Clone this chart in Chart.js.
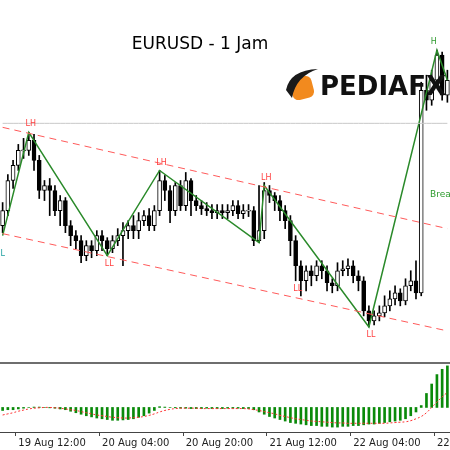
<!DOCTYPE html>
<html><head><meta charset="utf-8">
<script src="https://cdn.jsdelivr.net/npm/chart.js@4"></script>
<style>html,body{margin:0;padding:0;background:#fff}#w{width:450px;height:450px}</style>
</head><body><div id="w"><canvas id="c"></canvas></div>
<script>
const opens=[1.0975,1.0990,1.1020,1.1035,1.1050,1.1050,1.1060,1.1040,1.1010,1.1015,1.1010,1.0990,1.1000,1.0975,1.0965,1.0960,1.0945,1.0955,1.0950,1.0965,1.0960,1.0952,1.0960,1.0965,1.0970,1.0975,1.0970,1.0980,1.0985,1.0975,1.0990,1.1020,1.1010,1.0990,1.1015,1.0995,1.1020,1.1000,1.0995,1.0992,1.0990,1.0988,1.0990,1.0988,1.0990,1.0995,1.0987,1.0990,1.0990,1.0960,1.0970,1.1010,1.1005,1.1000,1.0990,1.0980,1.0960,1.0935,1.0920,1.0930,1.0925,1.0935,1.0930,1.0918,1.0915,1.0930,1.0932,1.0935,1.0925,1.0920,1.0890,1.0880,1.0885,1.0888,1.0895,1.0902,1.0908,1.0900,1.0915,1.0920,1.0908,1.1110,1.1100,1.1120,1.1145,1.1105];
const closes=[1.0990,1.1020,1.1035,1.1050,1.1050,1.1060,1.1040,1.1010,1.1015,1.1010,1.0990,1.1000,1.0975,1.0965,1.0960,1.0945,1.0955,1.0950,1.0965,1.0960,1.0952,1.0960,1.0965,1.0970,1.0975,1.0970,1.0980,1.0985,1.0975,1.0990,1.1020,1.1010,1.0990,1.1015,1.0995,1.1020,1.1000,1.0995,1.0992,1.0990,1.0988,1.0990,1.0988,1.0990,1.0995,1.0987,1.0990,1.0990,1.0960,1.0970,1.1010,1.1005,1.1000,1.0990,1.0980,1.0960,1.0935,1.0920,1.0930,1.0925,1.0935,1.0930,1.0918,1.0915,1.0930,1.0932,1.0935,1.0925,1.0920,1.0890,1.0880,1.0885,1.0888,1.0895,1.0902,1.0908,1.0900,1.0915,1.0920,1.0908,1.1110,1.1100,1.1120,1.1145,1.1105,1.1120];
const highs=[1.0998,1.1026,1.1040,1.1056,1.1062,1.1068,1.1066,1.1045,1.1020,1.1022,1.1015,1.1005,1.1003,1.0980,1.0970,1.0965,1.0960,1.0960,1.0970,1.0970,1.0963,1.0965,1.0972,1.0978,1.0980,1.0985,1.0988,1.0990,1.0992,1.0995,1.1030,1.1025,1.1015,1.1018,1.1020,1.1028,1.1022,1.1005,1.1000,1.0998,1.0996,1.0996,1.0996,1.0996,1.1000,1.1000,1.0996,1.0996,1.0994,1.1015,1.1018,1.1015,1.1008,1.1005,1.0995,1.0985,1.0965,1.0940,1.0935,1.0935,1.0940,1.0940,1.0935,1.0922,1.0938,1.0940,1.0942,1.0940,1.0930,1.0924,1.0895,1.0890,1.0895,1.0905,1.0910,1.0915,1.0912,1.0922,1.0930,1.0940,1.1118,1.1125,1.1130,1.1150,1.1148,1.1130];
const lows=[1.0968,1.0985,1.1012,1.1030,1.1042,1.1045,1.1030,1.1002,1.1000,1.0985,1.0985,1.0975,1.0968,1.0955,1.0952,1.0938,1.0940,1.0943,1.0945,1.0950,1.0945,1.0948,1.0955,1.0935,1.0962,1.0962,1.0962,1.0975,1.0970,1.0970,1.0985,1.1000,1.0978,1.0985,1.0990,1.0990,1.0985,1.0990,1.0986,1.0985,1.0982,1.0982,1.0982,1.0982,1.0985,1.0982,1.0982,1.0984,1.0955,1.0958,1.0962,1.0998,1.0990,1.0980,1.0972,1.0945,1.0920,1.0905,1.0910,1.0915,1.0920,1.0922,1.0910,1.0908,1.0910,1.0925,1.0925,1.0918,1.0910,1.0885,1.0874,1.0876,1.0880,1.0884,1.0890,1.0896,1.0895,1.0896,1.0910,1.0902,1.0905,1.1090,1.1095,1.1115,1.1100,1.1098];
const zigzagIdx=[0,5,20,30,49,50,70,83,85];
const zigzagVal=[1.0965,1.1068,1.0945,1.1030,1.0958,1.1015,1.0874,1.1150,1.1120];
const upperIdx=[0,85], upperVal=[1.1073,1.0972];
const lowerIdx=[0,85], lowerVal=[1.0967,1.0870];
const hLine=1.1077;
const macdHist=[-8,-6,-6,-4,-2,0,1,1,0,-1,-2,-4,-6,-10,-14,-18,-22,-25,-28,-30,-32,-34,-34,-33,-32,-30,-26,-22,-15,-8,2,1,0,-1,-2,-2,-3,-3,-3,-2,-3,-3,-3,-2,-2,-2,-3,-3,-6,-12,-18,-24,-28,-32,-36,-40,-42,-44,-46,-48,-48,-50,-50,-52,-52,-50,-50,-48,-48,-46,-44,-44,-42,-40,-38,-36,-34,-30,-22,-12,5,37,62,87,101,110];
const macdSignal=[-20,-17,-14,-10,-7,-4,-2,-1,0,0,-1,-2,-4,-6,-8,-11,-14,-17,-20,-22,-24,-26,-27,-28,-28,-27,-26,-24,-21,-17,-12,-8,-5,-3,-2,-2,-2,-2,-3,-3,-3,-3,-3,-3,-3,-3,-3,-4,-6,-8,-11,-14,-17,-21,-24,-27,-30,-32,-34,-36,-37,-38,-39,-40,-41,-41,-42,-42,-42,-42,-42,-42,-42,-42,-41,-40,-39,-38,-35,-30,-24,-14,0,14,28,40];
const tickLabels={3:'19 Aug 12:00',19:'20 Aug 04:00',35:'20 Aug 20:00',51:'21 Aug 12:00',67:'22 Aug 04:00',83:'22 Aug 20:00'};
const pivotLabels=[[5,1.1068,'LH','#ff4040',-1],[20,1.0945,'LL','#ff4040',1],[30,1.1030,'LH','#ff4040',-1],[50,1.1015,'LH','#ff4040',-1],[56,1.0920,'LL','#ff4040',1],[70,1.0874,'LL','#ff4040',1],[82,1.1150,'H','#2e9b2e',-1],[0,1.0955,'L','#20a0a0',1]];

const categories=opens.map((_,i)=>'b'+i);
const sparse=(idx,val)=>{const a=new Array(opens.length).fill(null);idx.forEach((k,j)=>a[k]=val[j]);return a;};
const bull=i=>closes[i]>=opens[i];

const deco={id:'deco',
 afterDraw(ch){const c=ch.ctx,x=ch.scales.x,y=ch.scales.y,y2=ch.scales.y2;c.save();
  c.fillStyle='#000';c.font='17px "DejaVu Sans"';c.textAlign='center';c.textBaseline='middle';c.fillText('EURUSD - 1 Jam',200,45);
  c.fillStyle='#f28a1e';c.save();c.translate(302,88);c.rotate(-0.25);c.beginPath();c.roundRect(-11,-11,22,22,6);c.fill();c.restore();
  c.fillStyle='#1a1a1a';c.beginPath();c.moveTo(286,90);c.quadraticCurveTo(290,70,318,69);c.quadraticCurveTo(296,76,292,98);c.closePath();c.fill();
  c.fillStyle='#111';c.font='bold 26px "DejaVu Sans"';c.textAlign='left';c.fillText('PEDIAFX',320,88);
  c.font='8px "DejaVu Sans"';c.textAlign='center';
  pivotLabels.forEach(p=>{c.fillStyle=p[3];c.fillText(p[2],x.getPixelForValue(p[0])+(p[2]==='L'?0:2),y.getPixelForValue(p[1])+p[4]*8);});
  c.fillStyle='#2e9b2e';c.font='9px "DejaVu Sans"';c.textAlign='left';c.fillText('Breakout',430,195);
  c.strokeStyle='#6e6e6e';c.lineWidth=2;c.beginPath();c.moveTo(0,y2.top-1);c.lineTo(450,y2.top-1);c.stroke();
  c.restore();}
};

new Chart(document.getElementById('c'),{
 data:{labels:categories,datasets:[
  {type:'line',data:sparse(upperIdx,upperVal),spanGaps:true,borderColor:'#ff5a5a',borderWidth:1,borderDash:[7,5],pointRadius:0,yAxisID:'y'},
  {type:'line',data:sparse(lowerIdx,lowerVal),spanGaps:true,borderColor:'#ff5a5a',borderWidth:1,borderDash:[7,5],pointRadius:0,yAxisID:'y'},
  {type:'line',data:opens.map(()=>hLine),borderColor:'#c8c8c8',borderWidth:1,pointRadius:0,yAxisID:'y'},
  {type:'bar',data:lows.map((l,i)=>[l,highs[i]]),backgroundColor:'#000',barThickness:1,grouped:false,yAxisID:'y',order:2},
  {type:'bar',data:opens.map((o,i)=>o===closes[i]?[o-0.00005,o+0.00005]:[o,closes[i]]),backgroundColor:opens.map((o,i)=>bull(i)?'#fff':'#000'),borderColor:'#000',borderWidth:1,borderSkipped:false,barThickness:4,grouped:false,yAxisID:'y',order:1},
  {type:'line',data:sparse(zigzagIdx,zigzagVal),spanGaps:true,borderColor:'#2a8a2a',borderWidth:1.5,pointRadius:0,yAxisID:'y',order:0},
  {type:'bar',data:macdHist,backgroundColor:'#0a8a0a',barThickness:2,grouped:false,yAxisID:'y2',order:3},
  {type:'line',data:macdSignal,borderColor:'#ff3030',borderWidth:1,borderDash:[2,2],pointRadius:0,tension:0.4,yAxisID:'y2',order:0}
 ]},
 options:{responsive:true,maintainAspectRatio:false,animation:false,
  layout:{padding:{left:0,right:0,top:0,bottom:0}},
  plugins:{legend:{display:false},tooltip:{enabled:false}},
  scales:{
   x:{offset:true,grid:{display:true,drawOnChartArea:false,drawTicks:true,tickLength:4,color:ctx=>tickLabels[ctx.index]?'#444':'rgba(0,0,0,0)'},border:{display:true,color:'#444',width:1},
      ticks:{autoSkip:false,maxRotation:0,align:'start',color:'#222',font:{size:10,family:'DejaVu Sans'},padding:1,callback:(v,i)=>tickLabels[i]||''}},
   y2:{stack:'p',stackWeight:68,min:-65,max:115,offset:false,display:true,grid:{display:false},border:{display:false},ticks:{display:false},afterFit:s=>{s.width=0;}},
   y:{stack:'p',stackWeight:364,min:1.0837,max:1.1200,display:true,grid:{display:false},border:{display:false},ticks:{display:false},afterFit:s=>{s.width=0;}}
  }},
 plugins:[deco]
});
</script></body></html>
